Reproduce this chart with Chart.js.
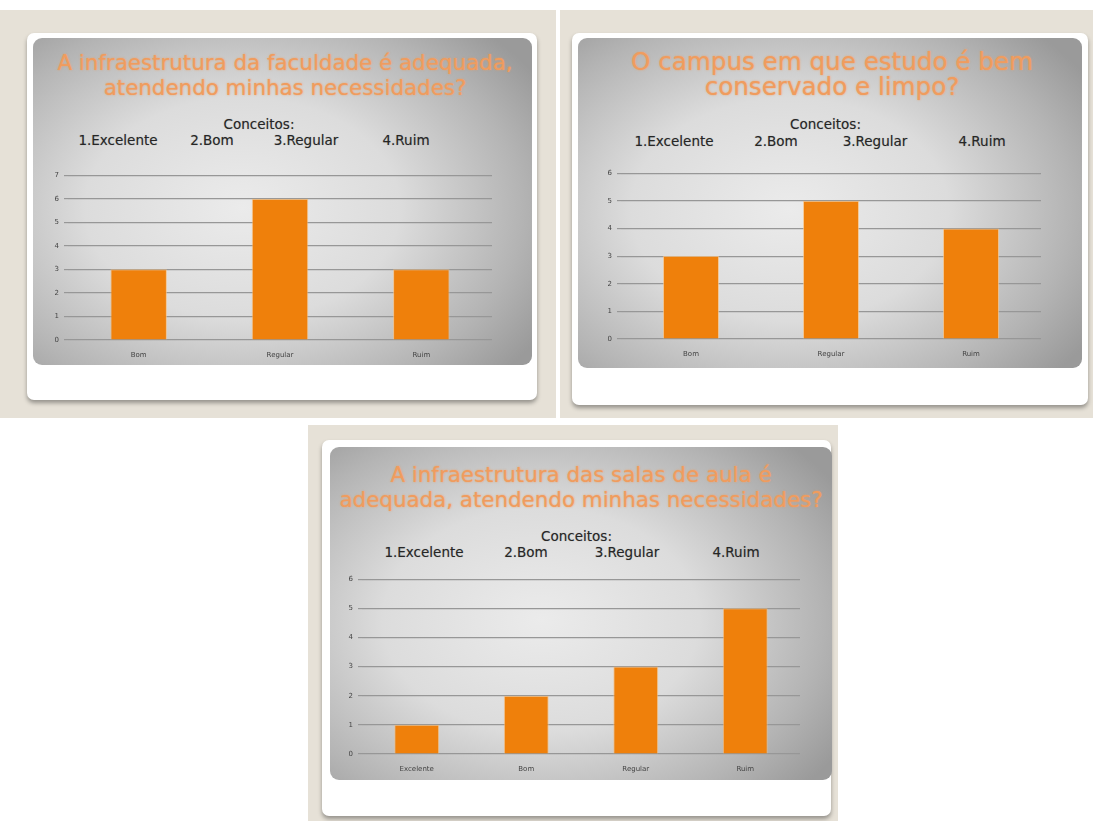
<!DOCTYPE html>
<html>
<head>
<meta charset="utf-8">
<script src="https://cdn.jsdelivr.net/npm/chart.js@4.4.1/dist/chart.umd.min.js"></script>
<style>
  body { margin: 0; width: 1093px; height: 821px; background: #fff; position: relative; overflow: hidden; font-family: "DejaVu Sans", Verdana, sans-serif; }
  .beige { position: absolute; background: #e6e1d7; }
  .card { position: absolute; background: #fff; border-radius: 7px; box-shadow: 0 3px 4px rgba(0,0,0,0.35); }
  .slide { position: absolute; border-radius: 9px;
    background: radial-gradient(ellipse 70% 75% at 42% 52%, #ebebeb 0%, #dcdcdc 45%, #b4b4b4 80%, #9a9a9a 100%); }
  .title { position: absolute; color: #f09c5e; text-align: center; white-space: nowrap; line-height: 25px; text-shadow: 0 0 2px rgba(240,156,94,0.9); }
  .txt { position: absolute; color: #262626; font-size: 13.5px; white-space: nowrap; transform: translateX(-50%); text-shadow: 0 0 1px rgba(0,0,0,0.3); }
  canvas { position: absolute; }
</style>
</head>
<body>
<div class="beige" style="left:0;top:10px;width:556px;height:408px"></div>
<div class="beige" style="left:560px;top:10px;width:533px;height:408px"></div>
<div class="beige" style="left:308px;top:425px;width:530px;height:396px"></div>

<div class="card" style="left:27px;top:33px;width:510px;height:367px"></div>
<div class="card" style="left:572px;top:33px;width:516px;height:372px"></div>
<div class="card" style="left:322px;top:440px;width:509px;height:376px"></div>

<div class="slide" style="left:33px;top:38px;width:499px;height:327px"></div>
<div class="slide" style="left:578px;top:38px;width:504px;height:330px"></div>
<div class="slide" style="left:330px;top:447px;width:502px;height:333px"></div>

<div id="labels"></div>
<canvas id="chart1"></canvas>
<canvas id="chart2"></canvas>
<canvas id="chart3"></canvas>

<script>
const titles = [
  ["A infraestrutura da faculdade é adequada,", "atendendo minhas necessidades?"],
  ["O campus em que estudo é bem", "conservado e limpo?"],
  ["A infraestrutura das salas de aula é", "adequada, atendendo minhas necessidades?"]
];
const conceitos = ["1.Excelente", "2.Bom", "3.Regular", "4.Ruim"];

const categories1 = ["Bom", "Regular", "Ruim"];
const values1 = [3, 6, 3];
const yMax1 = 7;

const categories2 = ["Bom", "Regular", "Ruim"];
const values2 = [3, 5, 4];
const yMax2 = 6;

const categories3 = ["Excelente", "Bom", "Regular", "Ruim"];
const values3 = [1, 2, 3, 5];
const yMax3 = 6;

// where the text sits on each slide
const textPos = [
  { cx: 285, t: 50, size: 21.4, head: 125, list: 141, xs: [118, 212, 306, 406] },
  { cx: 832, t: 49, size: 24.6, head: 125, list: 142, xs: [674, 776, 875, 982] },
  { cx: 581, t: 462, size: 21.4, head: 537, list: 553, xs: [424, 526, 627, 736] }
];

let holder = document.getElementById("labels");
textPos.forEach(function (p, i) {
  let t = document.createElement("div");
  t.className = "title";
  t.style.left = (p.cx - 300) + "px";
  t.style.width = "600px";
  t.style.top = p.t + "px";
  t.style.fontSize = p.size + "px";
  t.innerHTML = titles[i].join("<br>");
  holder.appendChild(t);

  let h = document.createElement("div");
  h.className = "txt";
  h.style.left = (p.xs[1] + p.xs[2]) / 2 + "px";
  h.style.top = (p.head - 9) + "px";
  h.textContent = "Conceitos:";
  holder.appendChild(h);

  conceitos.forEach(function (c, j) {
    let d = document.createElement("div");
    d.className = "txt";
    d.style.left = p.xs[j] + "px";
    d.style.top = (p.list - 9) + "px";
    d.textContent = c;
    holder.appendChild(d);
  });
});

function makeChart(id, categories, values, yMax, plot, barPct) {
  let canvas = document.getElementById(id);
  let yw = 25, top = 6, right = 4, xh = 20;
  canvas.width = plot.right - plot.left + yw + right;
  canvas.height = plot.bottom - plot.top + top + xh;
  canvas.style.left = (plot.left - yw) + "px";
  canvas.style.top = (plot.top - top) + "px";

  return new Chart(canvas, {
    type: "bar",
    data: {
      labels: categories,
      datasets: [
        {
          data: values,
          backgroundColor: "#ef800b",
          borderColor: "rgba(250,190,120,0.7)",
          borderWidth: 1,
          categoryPercentage: 1,
          barPercentage: barPct,
        },
      ],
    },
    options: {
      responsive: false,
      animation: false,
      layout: { padding: { top: top, right: right } },
      plugins: { legend: { display: false }, tooltip: { enabled: false } },
      scales: {
        x: {
          grid: { display: false },
          border: { display: false },
          ticks: { color: "#444", font: { size: 7, family: "DejaVu Sans" }, padding: 3 },
          afterFit: function (s) { s.height = xh; },
        },
        y: {
          min: 0,
          max: yMax,
          grid: { color: "#979797", lineWidth: 1.2, tickLength: 4 },
          border: { display: false },
          ticks: { stepSize: 1, color: "#444", font: { size: 7, family: "DejaVu Sans" }, padding: 5 },
          afterFit: function (s) { s.width = yw; },
        },
      },
    },
  });
}

makeChart("chart1", categories1, values1, yMax1, { left: 68, right: 492, top: 172, bottom: 340 }, 0.4);
makeChart("chart2", categories2, values2, yMax2, { left: 621, right: 1041, top: 170, bottom: 339 }, 0.4);
makeChart("chart3", categories3, values3, yMax3, { left: 362, right: 800, top: 576, bottom: 754 }, 0.41);
</script>
</body>
</html>
